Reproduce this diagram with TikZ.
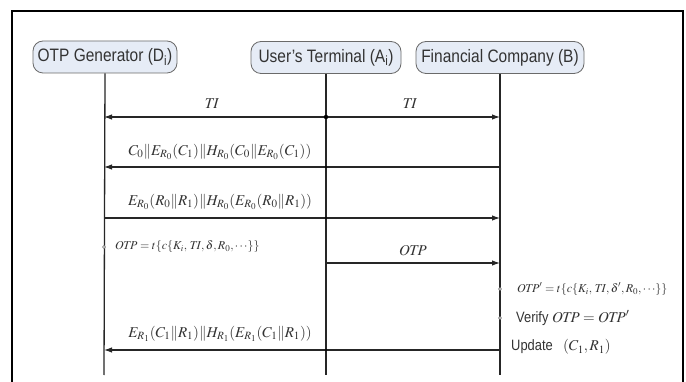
\documentclass[tikz,border=0pt]{standalone}
\usepackage{mathptmx}
\usepackage{fontspec}
\usetikzlibrary{arrows.meta}
\newfontfamily\nodefont{Liberation Sans}[FakeStretch=0.86]
\definecolor{boxfill}{HTML}{E6ECF6}
\definecolor{boxline}{HTML}{6A6A6A}
\definecolor{txt}{HTML}{333333}
\newcommand{\cc}{\|}
\newcommand{\wTI}{\mathit{TI}}
\newcommand{\wOTP}{\mathit{OTP}}
\tikzset{
  actor/.style={draw=boxline, fill=boxfill, rounded corners=10pt, line width=0.8pt,
    minimum height=32pt, inner sep=2pt, text=txt, font=\nodefont\fontsize{18}{20}\selectfont},
  life/.style={line width=1.3pt, draw=black!85},
  msg/.style={line width=1.1pt, draw=black!85, -{Latex[length=8pt,width=5.5pt]}},
  lab/.style={inner sep=0pt, text=txt, font=\fontsize{15}{17}\selectfont},
  note/.style={inner sep=0pt, anchor=west, text=txt, font=\fontsize{12}{14}\selectfont},
  side/.style={inner sep=0pt, anchor=west, text=txt, font=\nodefont\fontsize{15}{17}\selectfont},
  tick/.style={draw=black!60, fill=white, line width=0.4pt},
}
\begin{document}
\begin{tikzpicture}[x=1pt,y=-1pt]
\useasboundingbox (0,0) rectangle (686,382);
\fill[white] (0,0) rectangle (686,382);
% frame
\draw[line width=1.8pt] (12,382) -- (12,11) -- (683,11) -- (683,382);
% actors
\node[actor, minimum width=144pt] (gen) at (105,57) {OTP Generator (D\textsubscript{i})};
\node[actor, minimum width=150pt] (usr) at (326,57.5) {User’s Terminal (A\textsubscript{i})};
\node[actor, minimum width=168pt] (fin) at (500,57.5) {Financial Company (B)};
% lifeline ends
\coordinate (genend) at (104,375);
\coordinate (usrend) at (326,375);
\coordinate (finend) at (500,375);
\draw[life] (gen.south) -- (genend);
\draw[life] (usr.south) -- (usrend);
\draw[life] (fin.south) -- (finend);
% message points
\coordinate (g1) at (104,117); \coordinate (a1) at (326,117); \coordinate (b1) at (500,117);
\coordinate (g2) at (104,167); \coordinate (a2) at (326,167); \coordinate (b2) at (500,167);
\coordinate (g3) at (104,218); \coordinate (a3) at (326,218); \coordinate (b3) at (500,218);
\coordinate (g4) at (104,247);
\coordinate (a4) at (326,263); \coordinate (b4) at (500,263);
\coordinate (b6) at (500,289); \coordinate (b7) at (500,318);
\coordinate (g5) at (104,350); \coordinate (a5) at (326,350); \coordinate (b5) at (500,350);
% TI
\draw[msg] (a1) -- (g1);
\draw[msg] (a1) -- (b1);
\fill[black] (a1) circle (2.2pt);
\node[lab] (ti1) at (212,104) {$\wTI$};
\node[lab] (ti2) at (410,104) {$\wTI$};
% C0 message
\draw[msg] (b2) -- (g2);
\fill[black] (a2) circle (1.2pt);
\node[lab] (m2) at (220,152) {$C_0\cc E_{R_0}(C_1)\cc H_{R_0}(C_0\cc E_{R_0}(C_1))$};
% E_R0 message
\draw[msg] (g3) -- (b3);
\fill[black] (a3) circle (1.2pt);
\node[lab] (m3) at (220,202) {$E_{R_0}(R_0\cc R_1)\cc H_{R_0}(E_{R_0}(R_0\cc R_1))$};
% OTP computation
\draw[tick] (g4) circle (1.5pt);
\node[note] (otp) at (115,247) {$\wOTP = t\{c\{K_i,\, \wTI,\delta, R_0,\cdots\}\}$};
% OTP message
\draw[msg] (a4) -- (b4);
\node[lab] (m4) at (413,251) {$\wOTP$};
% verification side
\draw[tick] (b6) circle (1.5pt);
\draw[tick] (b7) circle (1.5pt);
\node[note] (otpp) at (517,289) {$\wOTP' = t\{c\{K_i,\, \wTI,\delta', R_0,\cdots\}\}$};
\node[side] (ver) at (516,318) {Verify {\fontsize{15}{17}\selectfont$\wOTP = \wOTP'$}};
\node[side] (upd) at (511,347) {Update\;\, {\fontsize{15}{17}\selectfont$(C_1, R_1)$}};
% E_R1 message
\draw[msg] (b5) -- (g5);
\fill[black] (a5) circle (1.2pt);
\node[lab] (m5) at (220,334) {$E_{R_1}(C_1\cc R_1)\cc H_{R_1}(E_{R_1}(C_1\cc R_1))$};
\end{tikzpicture}
\end{document}
